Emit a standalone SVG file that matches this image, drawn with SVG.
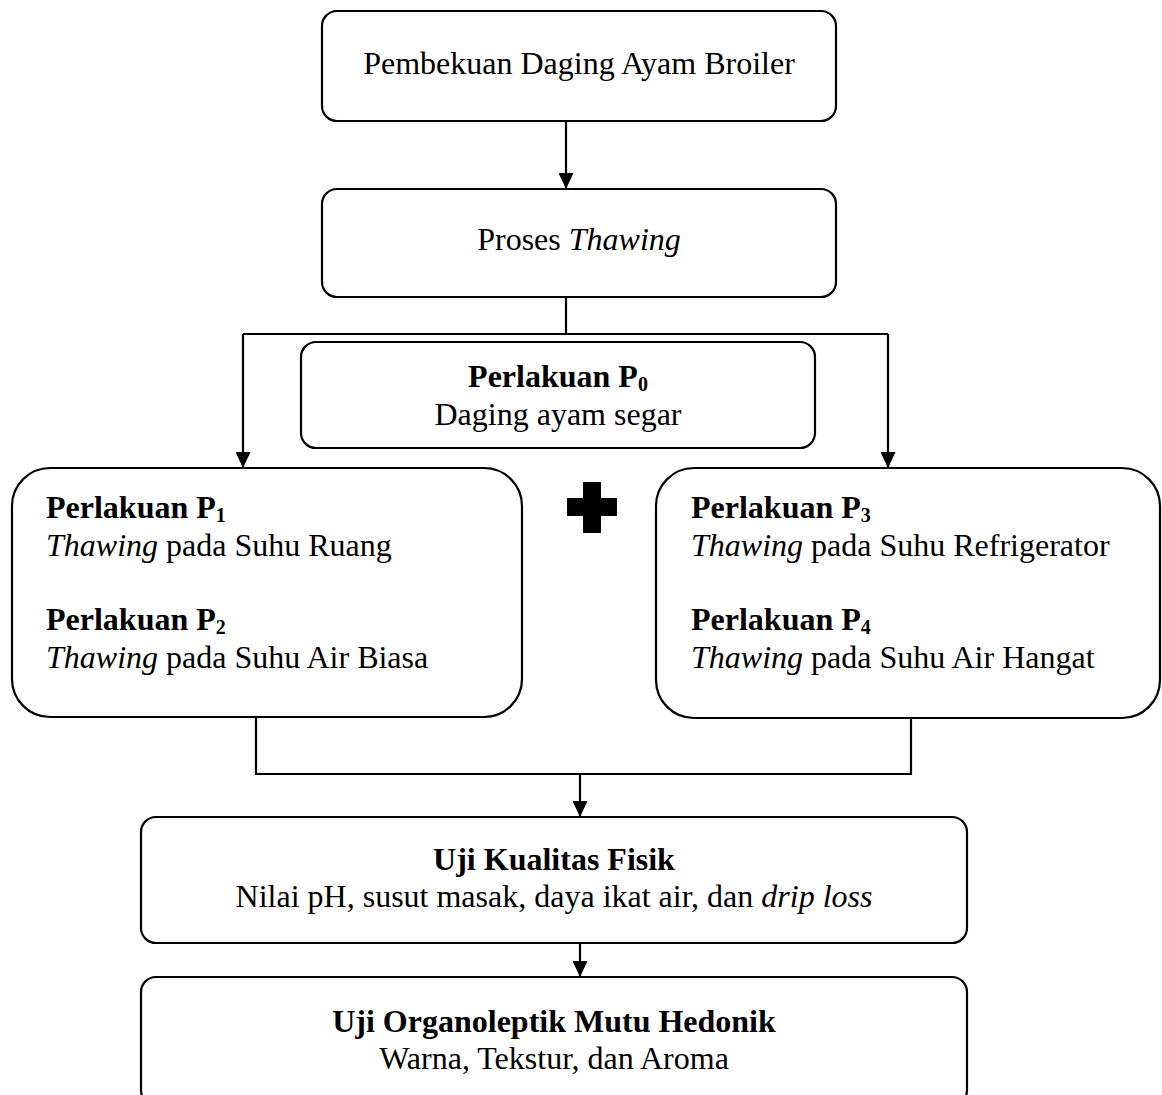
<svg xmlns="http://www.w3.org/2000/svg" width="1162" height="1095" viewBox="0 0 1162 1095">
  <defs>
    <marker id="arrow" markerUnits="userSpaceOnUse" markerWidth="16" markerHeight="15" refX="16" refY="7.5" orient="auto">
      <path d="M0,0 L16,7.5 L0,15 z" fill="#000"/>
    </marker>
    <style>
      .box { fill: #fff; stroke: #000; stroke-width: 2.2; }
      .line { fill: none; stroke: #000; stroke-width: 2.2; }
      .arr { fill: none; stroke: #000; stroke-width: 2.2; marker-end: url(#arrow); }
      text { font-family: "Liberation Serif", "Times New Roman", serif; font-size: 32px; fill: #000; }
      .c { text-anchor: middle; }
      .b { font-weight: bold; }
      .i { font-style: italic; }
      .sub { font-size: 20px; }
    </style>
  </defs>
  <rect width="1162" height="1095" fill="#fff"/>

  <g id="connectors">
    <line class="arr" x1="566" y1="121" x2="566" y2="189"/>
    <polyline class="line" points="566,297 566,334"/>
    <line class="line" x1="243" y1="334" x2="888" y2="334"/>
    <line class="arr" x1="243" y1="334" x2="243" y2="468"/>
    <line class="arr" x1="888" y1="334" x2="888" y2="468"/>
    <polyline class="line" points="256,717 256,774 911,774 911,718"/>
    <line class="arr" x1="580" y1="774" x2="580" y2="817"/>
    <line class="arr" x1="580" y1="943" x2="580" y2="977"/>
  </g>

  <g id="n1">
    <rect class="box" x="322" y="11" width="514" height="110" rx="15"/>
    <text class="c" x="579" y="74">Pembekuan Daging Ayam Broiler</text>
  </g>

  <g id="n2">
    <rect class="box" x="322" y="189" width="514" height="108" rx="15"/>
    <text class="c" x="579" y="250">Proses <tspan class="i">Thawing</tspan></text>
  </g>

  <g id="p0">
    <rect class="box" x="301" y="342" width="514" height="106" rx="15"/>
    <text class="c b" x="558" y="387">Perlakuan P<tspan class="sub" dy="4">0</tspan></text>
    <text class="c" x="558" y="425">Daging ayam segar</text>
  </g>

  <g id="plus">
    <path d="M583,482 H601 V498 H617 V516 H601 V533 H583 V516 H567 V498 H583 Z" fill="#000"/>
  </g>

  <g id="p12">
    <rect class="box" x="12" y="468" width="510" height="249" rx="38"/>
    <text class="b" x="46" y="518">Perlakuan P<tspan class="sub" dy="4">1</tspan></text>
    <text x="46" y="556"><tspan class="i">Thawing</tspan> pada Suhu Ruang</text>
    <text class="b" x="46" y="630">Perlakuan P<tspan class="sub" dy="4">2</tspan></text>
    <text x="46" y="668"><tspan class="i">Thawing</tspan> pada Suhu Air Biasa</text>
  </g>

  <g id="p34">
    <rect class="box" x="656" y="468" width="504" height="250" rx="38"/>
    <text class="b" x="691" y="518">Perlakuan P<tspan class="sub" dy="4">3</tspan></text>
    <text x="691" y="556"><tspan class="i">Thawing</tspan> pada Suhu Refrigerator</text>
    <text class="b" x="691" y="630">Perlakuan P<tspan class="sub" dy="4">4</tspan></text>
    <text x="691" y="668"><tspan class="i">Thawing</tspan> pada Suhu Air Hangat</text>
  </g>

  <g id="uji-fisik">
    <rect class="box" x="141" y="817" width="826" height="126" rx="15"/>
    <text class="c b" x="554" y="870">Uji Kualitas Fisik</text>
    <text class="c" x="554" y="907">Nilai pH, susut masak, daya ikat air, dan <tspan class="i">drip loss</tspan></text>
  </g>

  <g id="uji-organoleptik">
    <rect class="box" x="141" y="977" width="826" height="128" rx="15"/>
    <text class="c b" x="554" y="1032">Uji Organoleptik Mutu Hedonik</text>
    <text class="c" x="554" y="1069">Warna, Tekstur, dan Aroma</text>
  </g>
</svg>
